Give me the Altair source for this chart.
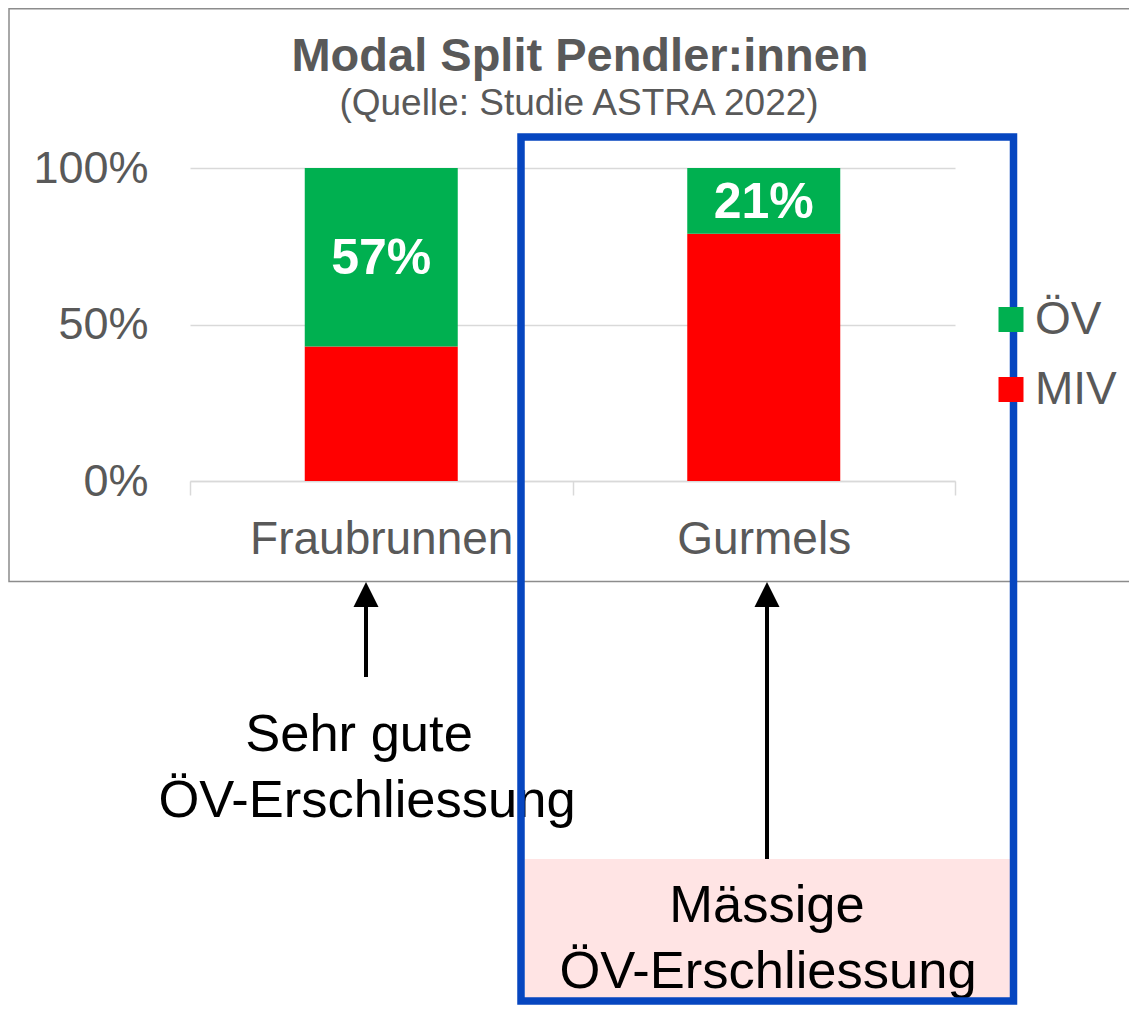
import altair as alt
import pandas as pd

# ---- data ----
gemeinden = ["Fraubrunnen", "Gurmels"]
modi = ["ÖV", "MIV"]
oev_anteil = [0.57, 0.21]
miv_anteil = [0.43, 0.79]
farben = ["#00B050", "#FF0000"]
y_ticks = [0, 0.5, 1.0]

titel = "Modal Split Pendler:innen"
untertitel = "(Quelle: Studie ASTRA 2022)"
anmerkung_links = ["Sehr gute", "ÖV-Erschliessung"]
anmerkung_rechts = ["Mässige", "ÖV-Erschliessung"]

GRAY = "#595959"
LIGHT = "#D9D9D9"
FONT = "Liberation Sans"

rows = []
for g, o, m in zip(gemeinden, oev_anteil, miv_anteil):
    rows.append({"Gemeinde": g, "Modus": "MIV", "Anteil": m, "Reihe": 0})
    rows.append({"Gemeinde": g, "Modus": "ÖV", "Anteil": o, "Reihe": 1})
df = pd.DataFrame(rows)
anker = pd.DataFrame({"a": [0]})

# ---- main bars ----
x_enc = alt.X(
    "Gemeinde:N", sort=gemeinden, title=None,
    scale=alt.Scale(paddingInner=0, paddingOuter=0),
    axis=alt.Axis(labelAngle=0, labelFontSize=46, labelColor=GRAY, labelPadding=22,
                  labelLimit=0, tickBand="extent", tickSize=14, tickColor=LIGHT,
                  tickWidth=1.5, domainColor=LIGHT, domainWidth=1.5, grid=False,
                  labelFont=FONT),
)
y_enc = alt.Y(
    "Anteil:Q", stack="zero", title=None,
    scale=alt.Scale(domain=[0, 1], nice=False),
    axis=alt.Axis(values=y_ticks, format=".0%", labelFontSize=45, labelColor=GRAY,
                  labelPadding=42, ticks=False, tickSize=0, domain=False,
                  gridColor=LIGHT, gridWidth=1.5, labelFont=FONT),
)

bars = alt.Chart(df).mark_bar(width=alt.RelativeBandSize(0.4)).encode(
    x=x_enc,
    y=y_enc,
    color=alt.Color(
        "Modus:N",
        scale=alt.Scale(domain=modi, range=farben),
        legend=alt.Legend(title=None, orient="none", legendX=798, legendY=128.5,
                          symbolType="square", symbolSize=625, symbolStrokeWidth=0,
                          labelFontSize=46, labelColor=GRAY, labelOffset=1,
                          rowPadding=24, padding=0, direction="vertical",
                          labelFont=FONT, labelLimit=0),
    ),
    order=alt.Order("Reihe:Q"),
)

labels = (
    alt.Chart(df)
    .transform_stack(stack="Anteil", groupby=["Gemeinde"], as_=["y0", "y1"],
                     sort=[alt.SortField("Reihe")])
    .transform_calculate(mid="(datum.y0 + datum.y1) / 2")
    .transform_filter(alt.datum.Modus == "ÖV")
    .mark_text(color="white", fontWeight="bold", fontSize=50, baseline="middle",
               align="center", font=FONT, dy=2)
    .encode(
        x=alt.X("Gemeinde:N", sort=gemeinden, title=None),
        y=alt.Y("mid:Q", title=None),
        text=alt.Text("Anteil:Q", format=".0%"),
    )
)

# ---- decoration / annotations ----
rahmen = alt.Chart(anker).mark_rect(fillOpacity=0, stroke="#8C8C8C", strokeWidth=1.5).encode(
    x=alt.value(-181), x2=alt.value(1000), y=alt.value(-159.25), y2=alt.value(413.5)
)

titel_text = alt.Chart(anker).mark_text(
    fontSize=47, fontWeight="bold", color=GRAY, align="center", baseline="alphabetic", font=FONT
).encode(x=alt.value(390), y=alt.value(-97), text=alt.value(titel))

untertitel_text = alt.Chart(anker).mark_text(
    fontSize=37, color=GRAY, align="center", baseline="alphabetic", font=FONT
).encode(x=alt.value(389), y=alt.value(-53), text=alt.value(untertitel))

rosa = alt.Chart(anker).mark_rect(fill="#FFE4E4", strokeWidth=0).encode(
    x=alt.value(335), x2=alt.value(820), y=alt.value(691), y2=alt.value(833)
)

pfeil_schaft_l = alt.Chart(anker).mark_rule(color="black", strokeWidth=4).encode(
    x=alt.value(176), y=alt.value(437), y2=alt.value(509)
)
pfeil_schaft_r = alt.Chart(anker).mark_rule(color="black", strokeWidth=4).encode(
    x=alt.value(577), y=alt.value(437), y2=alt.value(691)
)
kopf = "M0,-1L1,1L-1,1Z"
pfeil_kopf_l = alt.Chart(anker).mark_point(
    shape=kopf, size=625, filled=True, color="black", opacity=1, strokeWidth=0
).encode(x=alt.value(176), y=alt.value(426.5))
pfeil_kopf_r = alt.Chart(anker).mark_point(
    shape=kopf, size=625, filled=True, color="black", opacity=1, strokeWidth=0
).encode(x=alt.value(577), y=alt.value(426.5))

def anm(text, x, y):
    return alt.Chart(anker).mark_text(
        fontSize=52.5, color="black", align="center", baseline="alphabetic", font=FONT
    ).encode(x=alt.value(x), y=alt.value(y), text=alt.value(text))

texte = [
    anm(anmerkung_links[0], 169, 583),
    anm(anmerkung_links[1], 177, 649),
    anm(anmerkung_rechts[0], 577, 754),
    anm(anmerkung_rechts[1], 578, 820),
]

blau = alt.Chart(anker).mark_rect(fillOpacity=0, stroke="#0646C0", strokeWidth=7.5).encode(
    x=alt.value(331), x2=alt.value(823.5), y=alt.value(-31), y2=alt.value(833)
)

chart = (
    alt.layer(rahmen, bars, labels, titel_text, untertitel_text, rosa,
              pfeil_schaft_l, pfeil_schaft_r, pfeil_kopf_l, pfeil_kopf_r,
              *texte, blau)
    .properties(
        width=765, height=313,
        autosize=alt.AutoSizeParams(type="none"),
        padding={"left": 182, "top": 160, "right": 174, "bottom": 524},
        background="white",
    )
    .configure(font=FONT)
    .configure_view(stroke="transparent", strokeWidth=0)
)

chart.save("out.html", embed_options={"renderer": "svg", "actions": False})
